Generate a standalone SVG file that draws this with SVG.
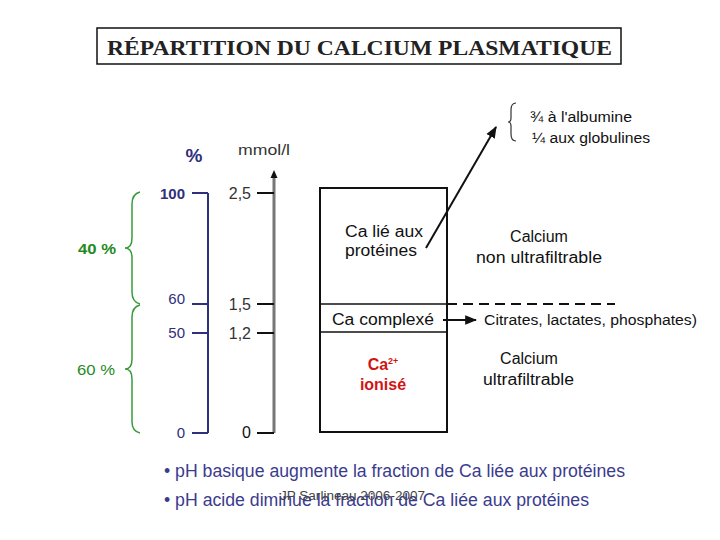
<svg xmlns="http://www.w3.org/2000/svg" width="720" height="540" viewBox="0 0 720 540">
<defs>
<style>
.s{font-family:"Liberation Sans",Arial,sans-serif}
.blue{fill:#2f2f7c}
.green{fill:#1f8a1f}
.gray{fill:#333}
.blk{fill:#111}
.red{fill:#d01515;font-weight:bold}
.bl{stroke:#2f2f7c;stroke-width:2;fill:none}
.tk{stroke:#111;stroke-width:2;fill:none}
.br{stroke:#3a9a3a;stroke-width:1.5;fill:none}
</style>
<marker id="ah" viewBox="0 0 10 10" refX="9" refY="5" markerWidth="6" markerHeight="6" orient="auto"><path d="M0,1 L10,5 L0,9 Z" fill="#111"/></marker>
</defs>
<rect width="720" height="540" fill="#fff"/>
<g id="title">
<rect x="97" y="28" width="524" height="36" fill="none" stroke="#111" stroke-width="1.5"/>
<text x="107" y="55" font-family="Liberation Serif,serif" font-weight="bold" font-size="22" fill="#222" textLength="505" lengthAdjust="spacingAndGlyphs">RÉPARTITION DU CALCIUM PLASMATIQUE</text>
</g>
<g id="percent-axis">
<text x="194" y="162" text-anchor="middle" class="s blue" font-weight="bold" font-size="19">%</text>
<path class="bl" d="M208,193 V433 M192,193 H208 M192,304 H208 M192,333 H208 M192,433 H208"/>
<text x="185" y="199" text-anchor="end" class="s blue" font-weight="bold" font-size="15">100</text>
<text x="185" y="304" text-anchor="end" class="s blue" font-size="15">60</text>
<text x="185" y="338" text-anchor="end" class="s blue" font-size="15">50</text>
<text x="185" y="438" text-anchor="end" class="s blue" font-size="15">0</text>
</g>
<g id="mmol-axis">
<text x="238" y="155" class="s gray" font-size="15" textLength="52" lengthAdjust="spacingAndGlyphs">mmol/l</text>
<line x1="274" y1="433" x2="274" y2="176" stroke="#777" stroke-width="3"/>
<path d="M270.5,178 L274,170 L277.5,178 Z" fill="#111"/>
<path class="tk" d="M257,193 H274 M257,304 H274 M257,333 H274 M257,433 H274"/>
<text x="251" y="199" text-anchor="end" class="s gray" font-size="16">2,5</text>
<text x="251" y="310" text-anchor="end" class="s gray" font-size="16">1,5</text>
<text x="251" y="339" text-anchor="end" class="s gray" font-size="16">1,2</text>
<text x="251" y="438" text-anchor="end" class="s blk" font-size="16">0</text>
</g>
<g id="braces">
<path class="br" d="M140,192 Q132,194 132,204 V238 Q132,248 125,248 Q132,248 132,258 V292 Q132,302 140,304"/>
<text x="78" y="254" class="s green" font-weight="bold" font-size="15" textLength="38" lengthAdjust="spacingAndGlyphs">40 %</text>
<path class="br" d="M140,305 Q132,307 132,317 V359 Q132,369 125,369 Q132,369 132,379 V422 Q132,431 140,433"/>
<text x="77" y="375" class="s green" font-size="15" textLength="38" lengthAdjust="spacingAndGlyphs">60 %</text>
</g>
<g id="box">
<rect x="320" y="188" width="127" height="244" fill="none" stroke="#111" stroke-width="2"/>
<line x1="320" y1="304" x2="447" y2="304" stroke="#111" stroke-width="1.5"/>
<line x1="320" y1="332" x2="447" y2="332" stroke="#111" stroke-width="1.5"/>
<text x="345" y="237" class="s blk" font-size="16" textLength="78" lengthAdjust="spacingAndGlyphs">Ca lié aux</text>
<text x="345" y="256" class="s blk" font-size="16" textLength="72" lengthAdjust="spacingAndGlyphs">protéines</text>
<text x="332" y="325" class="s blk" font-size="16" textLength="102" lengthAdjust="spacingAndGlyphs">Ca complexé</text>
<text x="383" y="370" text-anchor="middle" class="s red" font-size="16">Ca<tspan font-size="9" dy="-6">2+</tspan></text>
<text x="383" y="390" text-anchor="middle" class="s red" font-size="16">ionisé</text>
</g>
<g id="binding">
<path d="M516,103 Q511,103 511,110 V118 Q511,122 508,122 Q511,122 511,126 V134 Q511,141 516,141" fill="none" stroke="#333" stroke-width="1.2"/>
<text x="530" y="122" class="s blk" font-size="14" textLength="102" lengthAdjust="spacingAndGlyphs">¾ à l'albumine</text>
<text x="532" y="143" class="s blk" font-size="14" textLength="118" lengthAdjust="spacingAndGlyphs">¼ aux globulines</text>
</g>
<g id="labels">
<text x="539" y="242" text-anchor="middle" class="s blk" font-size="16">Calcium</text>
<text x="476" y="263" class="s blk" font-size="16" textLength="126" lengthAdjust="spacingAndGlyphs">non ultrafiltrable</text>
<text x="484" y="325" class="s blk" font-size="14" textLength="213" lengthAdjust="spacingAndGlyphs">Citrates, lactates, phosphates)</text>
<text x="529" y="364" text-anchor="middle" class="s blk" font-size="16">Calcium</text>
<text x="483" y="385" class="s blk" font-size="16" textLength="91" lengthAdjust="spacingAndGlyphs">ultrafiltrable</text>
</g>
<g id="connectors">
<line x1="426" y1="248" x2="496" y2="127" stroke="#111" stroke-width="2" marker-end="url(#ah)"/>
<line x1="443" y1="320" x2="476" y2="320" stroke="#111" stroke-width="2" marker-end="url(#ah)"/>
<line x1="447" y1="304" x2="615" y2="304" stroke="#111" stroke-width="2" stroke-dasharray="10,6"/>
</g>
<g id="notes">
<text x="164" y="477" class="s" font-size="17.5" fill="#3b3b8e" textLength="461" lengthAdjust="spacingAndGlyphs">• pH basique augmente la fraction de Ca liée aux protéines</text>
<text x="164" y="506" class="s" font-size="17.5" fill="#3b3b8e" textLength="425" lengthAdjust="spacingAndGlyphs">• pH acide diminue la fraction de Ca liée aux protéines</text>
<text x="280" y="500" class="s" font-size="12" fill="#444" textLength="145" lengthAdjust="spacingAndGlyphs">JP Sarlineau 2006-2007</text>
</g>
</svg>
